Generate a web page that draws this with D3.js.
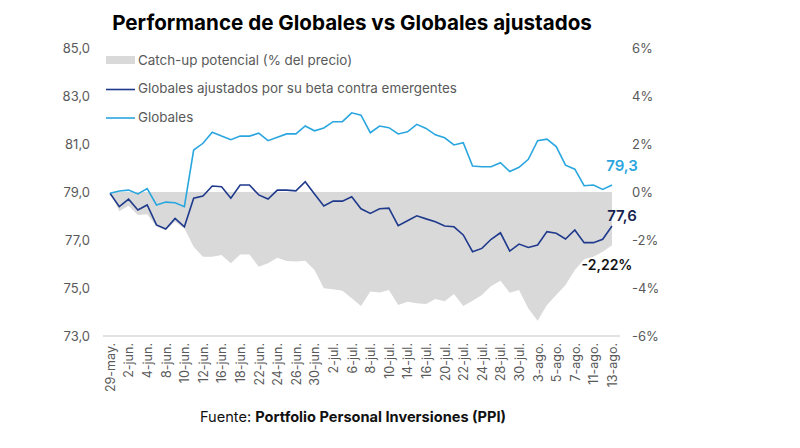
<!DOCTYPE html>
<html>
<head>
<meta charset="utf-8">
<script src="https://cdn.jsdelivr.net/npm/d3@7"></script>
<style>
    body { margin: 0; background: #fff; }
    text { font-family: Inter, "Noto Sans", sans-serif; }
</style>
</head>
<body>
<div id="chart"></div>
<script>
// fechas (días hábiles)
const dates = [
    "29-may.", "1-jun.", "2-jun.", "3-jun.", "4-jun.", "5-jun.", "8-jun.", "9-jun.", "10-jun.", "11-jun.",
    "12-jun.", "15-jun.", "16-jun.", "17-jun.", "18-jun.", "19-jun.", "22-jun.", "23-jun.", "24-jun.", "25-jun.",
    "26-jun.", "29-jun.", "30-jun.", "1-jul.", "2-jul.", "3-jul.", "6-jul.", "7-jul.", "8-jul.", "9-jul.",
    "10-jul.", "13-jul.", "14-jul.", "15-jul.", "16-jul.", "17-jul.", "20-jul.", "21-jul.", "22-jul.", "23-jul.",
    "24-jul.", "27-jul.", "28-jul.", "29-jul.", "30-jul.", "31-jul.", "3-ago.", "4-ago.", "5-ago.", "6-ago.",
    "7-ago.", "10-ago.", "11-ago.", "12-ago.", "13-ago."
];

const globales = [
    78.95, 79.04, 79.08, 78.92, 79.14, 78.46, 78.58, 78.55, 78.39, 80.75,
    81.03, 81.49, 81.33, 81.18, 81.33, 81.33, 81.45, 81.14, 81.28, 81.42,
    81.42, 81.75, 81.55, 81.67, 81.93, 81.93, 82.30, 82.20, 81.47, 81.75,
    81.68, 81.42, 81.51, 81.82, 81.65, 81.38, 81.26, 80.96, 81.05, 80.08,
    80.05, 80.05, 80.22, 79.85, 80.03, 80.36, 81.14, 81.20, 80.89, 80.12,
    79.95, 79.26, 79.29, 79.11, 79.29
];

const ajustados = [
    78.95, 78.39, 78.70, 78.25, 78.46, 77.63, 77.46, 77.90, 77.55, 78.74,
    78.83, 79.25, 79.22, 78.74, 79.29, 79.29, 78.88, 78.71, 79.08, 79.08,
    79.05, 79.43, 78.92, 78.42, 78.62, 78.62, 78.80, 78.30, 78.11, 78.30,
    78.33, 77.60, 77.80, 78.01, 77.88, 77.76, 77.58, 77.55, 77.21, 76.51,
    76.65, 77.03, 77.30, 76.54, 76.83, 76.69, 76.79, 77.35, 77.28, 77.04,
    77.42, 76.89, 76.89, 77.03, 77.58
];

// catch-up potencial, % del precio
const catchUp = [
    0, -0.80, -0.57, -0.96, -0.93, -1.44, -1.58, -1.24, -1.51, -2.28,
    -2.70, -2.70, -2.63, -2.97, -2.60, -2.60, -3.11, -2.97, -2.74, -2.88,
    -2.90, -2.86, -3.25, -4.01, -4.05, -4.11, -4.43, -4.75, -4.15, -4.19,
    -4.08, -4.71, -4.57, -4.64, -4.67, -4.46, -4.55, -4.25, -4.75, -4.53,
    -4.29, -3.92, -3.70, -4.20, -4.08, -4.85, -5.36, -4.71, -4.29, -3.88,
    -3.25, -2.80, -2.70, -2.49, -2.22
];

const leftTicks = [73, 75, 77, 79, 81, 83, 85];
const rightTicks = [-6, -4, -2, 0, 2, 4, 6];

const legendItems = [
    { label: "Catch-up potencial (% del precio)", type: "area" },
    { label: "Globales ajustados por su beta contra emergentes", type: "dark" },
    { label: "Globales", type: "light" }
];

const colors = { area: "#d9d9d9", dark: "#1f3a8c", light: "#2aa6df", text: "#595959" };

const width = 800, height = 448;
const margin = { top: 48, right: 188, bottom: 112, left: 110 };

const svg = d3.select("#chart").append("svg")
    .attr("width", width)
    .attr("height", height);

const x = d3.scalePoint()
    .domain(d3.range(dates.length))
    .range([margin.left, width - margin.right]);

const yLeft = d3.scaleLinear()
    .domain([73, 85])
    .range([height - margin.bottom, margin.top]);

const yRight = d3.scaleLinear()
    .domain([-6, 6])
    .range([height - margin.bottom, margin.top]);

// decimal comma, plain hyphen
const comma = (d, p) => d3.format(`.${p}f`)(d).replace(".", ",").replace("\u2212", "-");

// title
svg.append("text")
    .attr("x", 352)
    .attr("y", 30)
    .attr("text-anchor", "middle")
    .style("font-size", "20.6px")
    .style("font-weight", "bold")
    .style("fill", "#000")
    .text("Performance de Globales vs Globales ajustados");

// catch-up area
const area = d3.area()
    .x((d, i) => x(i))
    .y0(yRight(0))
    .y1(d => yRight(d));

svg.append("path")
    .datum(catchUp)
    .attr("d", area)
    .attr("fill", colors.area);

// lines
const lineLeft = d3.line()
    .x((d, i) => x(i))
    .y(d => yLeft(d));

svg.append("path")
    .datum(ajustados)
    .attr("d", lineLeft)
    .attr("fill", "none")
    .attr("stroke", colors.dark)
    .attr("stroke-width", 1.6);

svg.append("path")
    .datum(globales)
    .attr("d", lineLeft)
    .attr("fill", "none")
    .attr("stroke", colors.light)
    .attr("stroke-width", 1.6);

// left axis
const leftAxis = svg.append("g")
    .attr("transform", `translate(${margin.left - 17}, 0)`)
    .call(d3.axisLeft(yLeft).tickValues(leftTicks).tickSize(0).tickFormat(d => comma(d, 1)));
leftAxis.select(".domain").remove();
leftAxis.selectAll("text")
    .style("font-family", "Inter, sans-serif")
    .style("font-size", "13px")
    .style("fill", colors.text);

// right axis
const rightAxis = svg.append("g")
    .attr("transform", `translate(${width - margin.right + 17}, 0)`)
    .call(d3.axisRight(yRight).tickValues(rightTicks).tickSize(0).tickFormat(d => d + "%"));
rightAxis.select(".domain").remove();
rightAxis.selectAll("text")
    .style("font-family", "Inter, sans-serif")
    .style("font-size", "13px")
    .style("fill", colors.text);

// bottom axis
const xAxis = svg.append("g")
    .attr("transform", `translate(0, ${height - margin.bottom})`)
    .call(d3.axisBottom(x)
        .tickValues(d3.range(0, dates.length, 2))
        .tickSize(0)
        .tickFormat(i => dates[i]));
xAxis.select(".domain")
    .attr("d", `M${margin.left - 7},0H${width - margin.right + 8}`)
    .attr("stroke", "#d9d9d9")
    .attr("stroke-width", 1.5);
xAxis.selectAll("text")
    .attr("transform", "rotate(-90)")
    .attr("x", -7)
    .attr("y", 0)
    .attr("dy", "0.35em")
    .attr("text-anchor", "end")
    .style("font-family", "Inter, sans-serif")
    .style("font-size", "12.5px")
    .style("fill", colors.text);

// legend
const legend = svg.append("g")
    .attr("transform", `translate(106, 60)`);

legendItems.forEach((item, i) => {
    const g = legend.append("g").attr("transform", `translate(0, ${i * 28.5})`);
    if (item.type === "area") {
        g.append("rect")
            .attr("x", 0).attr("y", -4)
            .attr("width", 29).attr("height", 8)
            .attr("fill", colors.area);
    } else {
        g.append("line")
            .attr("x1", 0).attr("x2", 29)
            .attr("y1", 1).attr("y2", 1)
            .attr("stroke", colors[item.type])
            .attr("stroke-width", 1.6);
    }
    g.append("text")
        .attr("x", 32)
        .attr("y", 0)
        .attr("dy", "0.35em")
        .style("font-size", "13.4px")
        .style("fill", colors.text)
        .text(item.label);
});

// end labels
const last = dates.length - 1;

svg.append("text")
    .attr("x", x(last) + 10)
    .attr("y", yLeft(globales[last]) - 19)
    .attr("text-anchor", "middle")
    .attr("dy", "0.35em")
    .style("font-size", "15px")
    .style("font-weight", 600)
    .style("fill", colors.light)
    .text(comma(globales[last], 1));

svg.append("text")
    .attr("x", x(last) + 10)
    .attr("y", yLeft(ajustados[last]) - 10)
    .attr("text-anchor", "middle")
    .attr("dy", "0.35em")
    .style("font-size", "15px")
    .style("font-weight", 600)
    .style("fill", "#16244f")
    .text(comma(ajustados[last], 1));

svg.append("text")
    .attr("x", x(last) - 5)
    .attr("y", yRight(catchUp[last]) + 20)
    .attr("text-anchor", "middle")
    .attr("dy", "0.35em")
    .style("font-size", "14px")
    .style("font-weight", 600)
    .style("fill", "#111")
    .text(comma(catchUp[last], 2) + "%");

// source
const source = svg.append("text")
    .attr("x", 353)
    .attr("y", 422)
    .attr("text-anchor", "middle")
    .style("font-size", "14.6px")
    .style("fill", "#111");
source.append("tspan").text("Fuente: ");
source.append("tspan").style("font-weight", "bold").text("Portfolio Personal Inversiones (PPI)");
</script>
</body>
</html>
